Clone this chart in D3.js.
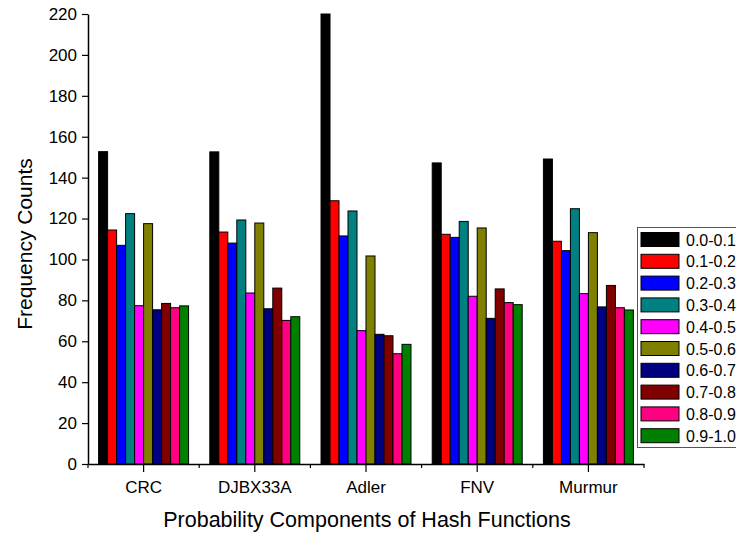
<!DOCTYPE html>
<html>
<head>
<meta charset="utf-8">
<script src="https://cdn.jsdelivr.net/npm/d3@7"></script>
<style>
  html, body { margin: 0; padding: 0; background: #fff; }
  svg { display: block; font-family: Arial, 'Liberation Sans', sans-serif; }
</style>
</head>
<body>
<div id="chart"></div>
<script>
// Hash functions on the x axis, probability ranges as the series
const categories = ['CRC', 'DJBX33A', 'Adler', 'FNV', 'Murmur'];
const seriesNames = ['0.0-0.1', '0.1-0.2', '0.2-0.3', '0.3-0.4', '0.4-0.5',
                     '0.5-0.6', '0.6-0.7', '0.7-0.8', '0.8-0.9', '0.9-1.0'];
const seriesColors = ['#000000', '#ff0000', '#0000ff', '#008080', '#ff00ff',
                      '#808000', '#000080', '#800000', '#ff0080', '#008000'];

// one array per hash function, in series order
const crc     = [152.7, 114.4, 106.9, 122.4, 77.4, 117.5, 75.4, 78.5, 76.4, 77.3];
const djbx33a = [152.6, 113.4, 108.0, 119.3, 83.6, 117.8, 75.9, 86.0, 70.2, 72.0];
const adler   = [220.0, 128.7, 111.5, 123.7, 65.2, 101.7, 63.4, 62.7, 53.9, 58.5];
const fnv     = [147.2, 112.3, 110.8, 118.6, 82.0, 115.4, 71.2, 85.6, 78.9, 77.9];
const murmur  = [149.1, 108.9, 104.3, 124.8, 83.3, 113.1, 76.8, 87.3, 76.4, 75.3];
const values = [crc, djbx33a, adler, fnv, murmur];

const yTicks = d3.range(0, 221, 20);

const width = 736, height = 533;
const margin = { left: 88, right: 92, top: 14, bottom: 69 };
const fontFam = "Arial, 'Liberation Sans', sans-serif";

const svg = d3.select('#chart').append('svg')
  .attr('width', width)
  .attr('height', height)
  .attr('viewBox', `0 0 ${width} ${height}`);

const x0 = d3.scaleBand()
  .domain(categories)
  .range([margin.left, width - margin.right]);

const x1 = d3.scaleBand()
  .domain(seriesNames)
  .range([0, x0.bandwidth()])
  .paddingOuter(1.18);

const y = d3.scaleLinear()
  .domain([0, 220])
  .range([height - margin.bottom, margin.top]);

// bars
const groups = svg.append('g').selectAll('g')
  .data(categories.map((c, i) => ({ cat: c, vals: values[i] })))
  .join('g')
  .attr('transform', (d) => `translate(${x0(d.cat)},0)`);

groups.selectAll('rect')
  .data((d) => d.vals.map((v, j) => ({ name: seriesNames[j], v, color: seriesColors[j] })))
  .join('rect')
  .attr('x', (d) => x1(d.name))
  .attr('y', (d) => y(d.v))
  .attr('width', x1.bandwidth())
  .attr('height', (d) => y(0) - y(d.v))
  .attr('fill', (d) => d.color)
  .attr('stroke', '#000')
  .attr('stroke-width', 1);

// y axis
const yAxis = svg.append('g')
  .attr('transform', `translate(${margin.left},0)`)
  .call(d3.axisLeft(y).tickValues(yTicks).tickSize(6).tickPadding(5).tickSizeOuter(0));
yAxis.select('.domain').attr('stroke', '#000').attr('stroke-width', 1.5);
yAxis.selectAll('.tick line').attr('stroke', '#000').attr('stroke-width', 1.2);
yAxis.selectAll('.tick text').attr('font-size', 17).attr('fill', '#000')
  .attr('font-family', fontFam);

// x axis: major ticks at categories, minor at group boundaries
const xAxis = svg.append('g')
  .attr('transform', `translate(0,${y(0)})`)
  .call(d3.axisBottom(x0).tickSize(8).tickPadding(9).tickSizeOuter(0));
xAxis.select('.domain').attr('stroke', '#000').attr('stroke-width', 1.5);
xAxis.selectAll('.tick line').attr('stroke', '#000').attr('stroke-width', 1.2);
xAxis.selectAll('.tick text').attr('font-size', 17).attr('fill', '#000')
  .attr('font-family', fontFam);

const bounds = categories.map((c) => x0(c)).concat([x0.range()[1]]);
xAxis.selectAll('line.minor')
  .data(bounds)
  .join('line')
  .attr('class', 'minor')
  .attr('x1', (d) => d).attr('x2', (d) => d)
  .attr('y1', 0).attr('y2', 4)
  .attr('stroke', '#000').attr('stroke-width', 1.2);

// axis titles
svg.append('text')
  .attr('x', (margin.left + width - margin.right) / 2 + 1)
  .attr('y', 527)
  .attr('text-anchor', 'middle')
  .attr('font-size', 21.5)
  .text('Probability Components of Hash Functions');

svg.append('text')
  .attr('transform', `translate(32,${(y(0) + y(220)) / 2 + 5}) rotate(-90)`)
  .attr('text-anchor', 'middle')
  .attr('font-size', 21)
  .text('Frequency Counts');

// legend
const legend = svg.append('g').attr('transform', 'translate(637,227)');
legend.append('rect')
  .attr('x', 0.5).attr('y', 0.5)
  .attr('width', 120).attr('height', 220)
  .attr('fill', '#fff')
  .attr('stroke', '#555').attr('stroke-width', 1);

const rowStep = 21.8;
const items = legend.selectAll('g.item')
  .data(seriesNames.map((n, i) => ({ n, color: seriesColors[i] })))
  .join('g')
  .attr('class', 'item')
  .attr('transform', (d, i) => `translate(4,${5.5 + i * rowStep})`);

items.append('rect')
  .attr('width', 38).attr('height', 14)
  .attr('fill', (d) => d.color)
  .attr('stroke', '#000').attr('stroke-width', 1);

items.append('text')
  .attr('x', 45).attr('y', 13)
  .attr('font-size', 16)
  .text((d) => d.n);
</script>
</body>
</html>
